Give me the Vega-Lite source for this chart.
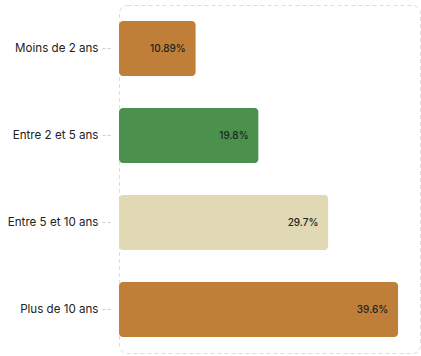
{
  "$schema": "https://vega.github.io/schema/vega-lite/v6.json",
  "width": 301,
  "height": 348,
  "autosize": {"type": "none"},
  "padding": {"left": 119, "top": 5, "right": 1, "bottom": 3},
  "background": "white",
  "config": {
    "font": "Inter",
    "view": {"stroke": "#dddddd", "strokeDash": [4, 3], "strokeWidth": 1, "cornerRadius": 8}
  },
  "data": {
    "values": [
      {"cat": "Moins de 2 ans", "value": 10.89, "label": "10.89%", "color": "#BF7F38"},
      {"cat": "Entre 2 et 5 ans", "value": 19.8, "label": "19.8%", "color": "#4C904D"},
      {"cat": "Entre 5 et 10 ans", "value": 29.7, "label": "29.7%", "color": "#E0D9B4"},
      {"cat": "Plus de 10 ans", "value": 39.6, "label": "39.6%", "color": "#BF7F38"}
    ]
  },
  "encoding": {
    "y": {
      "field": "cat",
      "type": "nominal",
      "sort": null,
      "scale": {"paddingInner": 0.37},
      "axis": {
        "title": null,
        "domain": false,
        "offset": 9,
        "tickSize": 10,
        "tickColor": "#cccccc",
        "tickDash": [3, 2],
        "labelPadding": 2,
        "labelFontSize": 11.6,
        "labelColor": "#222222",
        "labelFont": "Inter"
      }
    },
    "x": {
      "field": "value",
      "type": "quantitative",
      "scale": {"domain": [0, 42.7], "nice": false},
      "axis": null
    }
  },
  "layer": [
    {
      "mark": {"type": "bar", "cornerRadius": 4},
      "encoding": {
        "color": {"field": "color", "type": "nominal", "scale": null}
      }
    },
    {
      "mark": {"type": "text", "align": "right", "dx": -10, "fontSize": 10, "fontWeight": 500, "color": "#222222", "font": "Inter"},
      "encoding": {"text": {"field": "label"}}
    }
  ]
}
